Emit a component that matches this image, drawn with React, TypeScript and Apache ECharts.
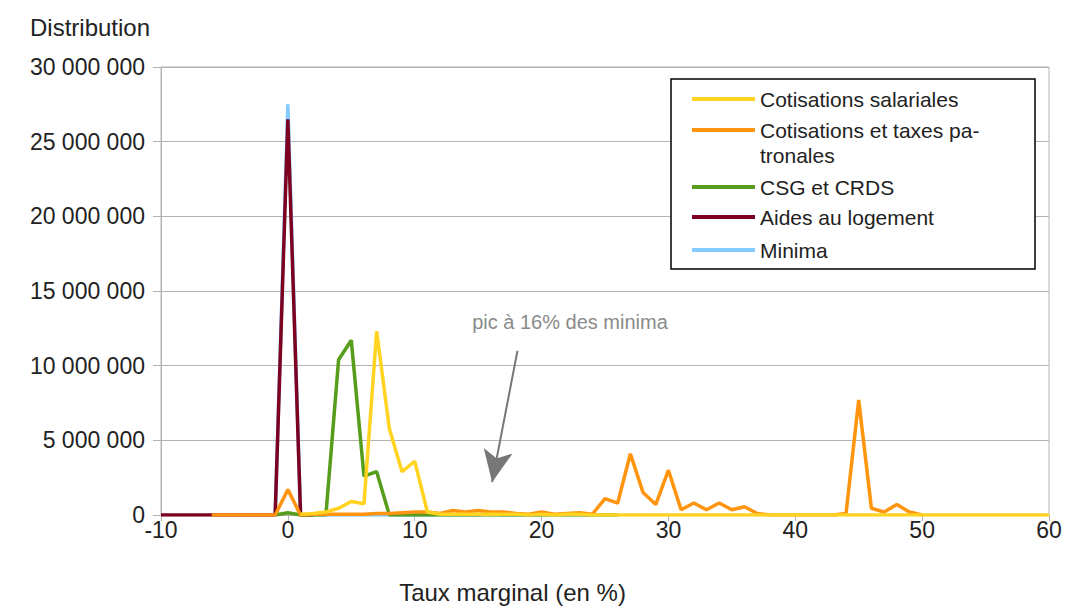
import React, { useEffect, useRef } from "react";
import * as echarts from "echarts";

// x values (taux marginal, %) and distributions
const salarialesX = [1, 2, 3, 4, 5, 6, 7, 8, 9, 10, 11, 12, 13, 14, 15, 16, 17, 18, 19, 20, 21, 22, 23, 24, 25, 26, 27, 28, 29, 30, 35, 40, 45, 50, 55, 60];
const salarialesY = [50000, 100000, 200000, 450000, 900000, 750000, 12300000, 5800000, 2900000, 3600000, 200000, 50000, 50000, 50000, 50000, 50000, 50000, 50000, 0, 50000, 0, 50000, 50000, 0, 0, 0, 0, 0, 0, 0, 0, 0, 0, 0, 0, 0];

const patronalesX = [-6, -5, -4, -3, -2, -1, 0, 1, 2, 3, 4, 5, 6, 7, 8, 9, 10, 11, 12, 13, 14, 15, 16, 17, 18, 19, 20, 21, 22, 23, 24, 25, 26, 27, 28, 29, 30, 31, 32, 33, 34, 35, 36, 37, 38, 39, 40, 41, 42, 43, 44, 45, 46, 47, 48, 49, 50];
const patronalesY = [0, 0, 0, 0, 0, 0, 1700000, 0, 50000, 50000, 50000, 50000, 50000, 100000, 100000, 150000, 200000, 200000, 100000, 300000, 200000, 300000, 200000, 200000, 100000, 50000, 200000, 50000, 100000, 150000, 50000, 1100000, 800000, 4100000, 1500000, 700000, 3000000, 350000, 800000, 350000, 800000, 350000, 550000, 100000, 0, 0, 0, 0, 0, 0, 100000, 7700000, 450000, 200000, 700000, 200000, 0];

const csgX = [-1, 0, 1, 2, 3, 4, 5, 6, 7, 8, 9, 10, 15, 20, 26];
const csgY = [0, 150000, 0, 0, 0, 10400000, 11700000, 2600000, 2900000, 0, 0, 0, 0, 0, 0];

const logementX = [-10, -9, -8, -7, -6, -5, -4, -3, -2, -1, 0, 1, 2];
const logementY = [0, 0, 0, 0, 0, 0, 0, 0, 0, 0, 26500000, 0, 0];

const minimaX = [-1, 0, 1, 2, 5, 10, 15, 16, 17, 20];
const minimaY = [0, 27500000, 0, 0, 0, 0, 0, 150000, 0, 0];

const xTicks = [-10, 0, 10, 20, 30, 40, 50, 60];

// annotation arrow: from (x, y) to (x, y) in data coordinates
const arrowFrom = [18.1, 11000000];
const arrowTo = [16.1, 2200000];

const names = {
  sal: "Cotisations salariales",
  pat: "Cotisations et taxes patronales",
  csg: "CSG et CRDS",
  log: "Aides au logement",
  min: "Minima",
};

const colors = {
  sal: "#ffd320",
  pat: "#ff950e",
  csg: "#579d1c",
  log: "#7e0021",
  min: "#83caff",
};

const annotation = "pic à 16% des minima";

const zip = (xs: number[], ys: number[]) => xs.map((x, i) => [x, ys[i]]);

const fmt = (v: number) => String(v).replace(/\B(?=(\d{3})+(?!\d))/g, " ");

const FONT = "'Liberation Sans', Arial, sans-serif";

export default function App() {
  const ref = useRef<HTMLDivElement>(null);
  useEffect(() => {
    if (!ref.current) return;
    const chart = echarts.init(ref.current, null, { renderer: "svg" });
    const line = (key: keyof typeof names, data: number[][], extra: any = {}) => ({
      type: "line",
      name: names[key],
      data,
      showSymbol: false,
      symbol: "none",
      lineStyle: { width: 3.5, color: colors[key], join: "bevel" },
      itemStyle: { color: colors[key] },
      ...extra,
    });
    const legendBase = {
      left: 692,
      padding: 0,
      icon: "rect",
      itemWidth: 63,
      itemHeight: 4,
      textStyle: { fontSize: 21, color: "#222", fontFamily: FONT, lineHeight: 25 },
    };
    chart.setOption({
      animation: false,
      textStyle: { fontFamily: FONT },
      title: {
        text: "Distribution",
        left: 30,
        top: 14,
        padding: 0,
        textStyle: { fontSize: 24, fontWeight: "normal", color: "#222", fontFamily: FONT, lineHeight: 26 },
      },
      grid: {
        left: 161,
        right: 16,
        top: 67,
        bottom: 95,
        show: true,
        borderColor: "#b3b3b3",
        borderWidth: 1,
      },
      xAxis: {
        type: "value",
        min: -10,
        max: 60,
        interval: 10,
        name: "Taux marginal (en %)",
        nameLocation: "middle",
        nameGap: 65,
        nameTextStyle: { fontSize: 24, color: "#222", fontFamily: FONT, padding: [0, 185, 0, 0] },
        axisLine: { show: true, onZero: false, lineStyle: { color: "#b3b3b3" } },
        axisTick: { show: true, length: 6, lineStyle: { color: "#b3b3b3" } },
        axisLabel: {
          fontSize: 23,
          color: "#222",
          margin: 3,
          fontFamily: FONT,
        },
        splitLine: { show: false },
      },
      yAxis: {
        type: "value",
        min: 0,
        max: 30000000,
        interval: 5000000,
        axisLine: { show: true, onZero: false, lineStyle: { color: "#b3b3b3" } },
        axisTick: { show: true, length: 8, lineStyle: { color: "#b3b3b3" } },
        axisLabel: { fontSize: 23, color: "#222", margin: 16, fontFamily: FONT, formatter: fmt },
        splitLine: { show: true, lineStyle: { color: "#b3b3b3", width: 1 } },
      },
      legend: [
        { ...legendBase, data: [names.sal], top: 99 - 12.5 },
        {
          ...legendBase,
          data: [names.pat],
          top: 130 - 37.5,
          formatter: () => "\nCotisations et taxes pa-\ntronales",
        },
        { ...legendBase, data: [names.csg], top: 187 - 12.5 },
        { ...legendBase, data: [names.log], top: 217 - 12.5 },
        { ...legendBase, data: [names.min], top: 250 - 12.5 },
      ],
      graphic: [
        {
          type: "rect",
          z: 3,
          shape: { x: 671, y: 79, width: 364, height: 190 },
          style: { fill: "#fff", stroke: "#000", lineWidth: 1.5 },
        },
        {
          type: "text",
          z: 5,
          x: 570,
          y: 322,
          style: {
            text: annotation,
            fill: "#8a8a8a",
            fontSize: 20,
            fontFamily: FONT,
            align: "center",
            verticalAlign: "middle",
          },
        },
      ],
      series: [
        line("min", zip(minimaX, minimaY), {
          markLine: {
            silent: true,
            symbol: ["none", "arrow"],
            symbolSize: [22, 32],
            lineStyle: { color: "#777777", width: 2, type: "solid" },
            label: { show: false },
            data: [[{ coord: arrowFrom }, { coord: arrowTo }]],
          },
        }),
        line("log", zip(logementX, logementY)),
        line("csg", zip(csgX, csgY)),
        line("pat", zip(patronalesX, patronalesY)),
        line("sal", zip(salarialesX, salarialesY)),
      ],
    });
    return () => chart.dispose();
  }, []);
  return (
    <div
      ref={ref}
      style={{ position: "absolute", left: 0, top: 0, width: 1065, height: 610, background: "#fff" }}
    />
  );
}
